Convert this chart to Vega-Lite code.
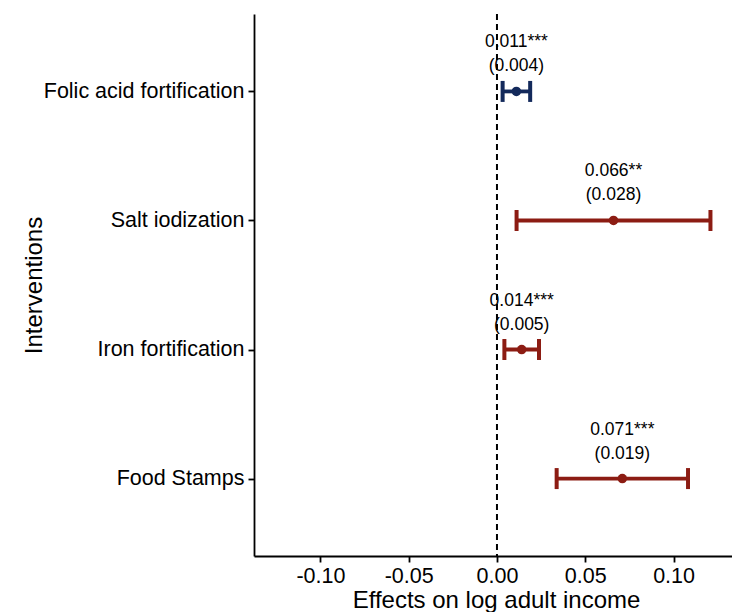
{
  "$schema": "https://vega.github.io/schema/vega-lite/v6.json",
  "width": 484,
  "height": 542,
  "autosize": "none",
  "padding": {"left": 254, "top": 14, "right": 0, "bottom": 56},
  "config": {
    "view": {"stroke": null},
    "font": "Liberation Sans",
    "axis": {
      "grid": false,
      "domainColor": "black",
      "domainWidth": 1.8,
      "tickColor": "black",
      "tickWidth": 1.8,
      "tickSize": 6,
      "labelColor": "black",
      "titleColor": "black",
      "labelFontSize": 21.5,
      "labelLimit": 400,
      "titleFontSize": 24,
      "titleFontWeight": "normal"
    }
  },
  "data": {
    "values": [
      {"intervention": "Folic acid fortification", "est": 0.011, "lo": 0.0032, "hi": 0.0188, "stars": "0.011***", "se": "(0.004)", "group": "Folic"},
      {"intervention": "Salt iodization", "est": 0.066, "lo": 0.0111, "hi": 0.1209, "stars": "0.066**", "se": "(0.028)", "group": "Other"},
      {"intervention": "Iron fortification", "est": 0.014, "lo": 0.0042, "hi": 0.0238, "stars": "0.014***", "se": "(0.005)", "group": "Other"},
      {"intervention": "Food Stamps", "est": 0.071, "lo": 0.0338, "hi": 0.1082, "stars": "0.071***", "se": "(0.019)", "group": "Other"}
    ]
  },
  "encoding": {
    "y": {
      "field": "intervention",
      "type": "nominal",
      "sort": null,
      "scale": {"type": "point", "padding": 0.6, "domain": ["Folic acid fortification", "Salt iodization", "Iron fortification", "Food Stamps"]},
      "axis": {"title": "Interventions", "labelPadding": 4, "titlePadding": 8}
    }
  },
  "layer": [
    {
      "mark": {"type": "rule", "strokeWidth": 3.8},
      "encoding": {
        "x": {
          "field": "lo",
          "type": "quantitative",
          "scale": {"domain": [-0.1376, 0.1365], "nice": false, "zero": false},
          "axis": {
            "title": "Effects on log adult income",
            "values": [-0.1, -0.05, 0, 0.05, 0.1],
            "labelExpr": "replace(format(datum.value, '.2f'), '\u2212', '-')",
            "labelPadding": 3,
            "titlePadding": 2
          }
        },
        "x2": {"field": "hi"},
        "color": {"field": "group", "type": "nominal", "scale": {"domain": ["Folic", "Other"], "range": ["#13295b", "#8c1c13"]}, "legend": null}
      }
    },
    {
      "mark": {"type": "tick", "thickness": 4, "size": 21, "opacity": 1},
      "encoding": {
        "x": {"field": "lo", "type": "quantitative"},
        "color": {"field": "group", "type": "nominal", "legend": null}
      }
    },
    {
      "mark": {"type": "tick", "thickness": 4, "size": 21, "opacity": 1},
      "encoding": {
        "x": {"field": "hi", "type": "quantitative"},
        "color": {"field": "group", "type": "nominal", "legend": null}
      }
    },
    {
      "mark": {"type": "point", "filled": true, "opacity": 1, "size": 90},
      "encoding": {
        "x": {"field": "est", "type": "quantitative"},
        "color": {"field": "group", "type": "nominal", "legend": null}
      }
    },
    {
      "mark": {"type": "text", "fontSize": 17.5, "dy": -49, "color": "black"},
      "encoding": {
        "x": {"field": "est", "type": "quantitative"},
        "text": {"field": "stars"}
      }
    },
    {
      "mark": {"type": "text", "fontSize": 17.5, "dy": -25, "color": "black"},
      "encoding": {
        "x": {"field": "est", "type": "quantitative"},
        "text": {"field": "se"}
      }
    },
    {
      "data": {"values": [{"zero": 0}]},
      "mark": {"type": "rule", "strokeDash": [6, 4], "strokeWidth": 2, "color": "black"},
      "encoding": {
        "x": {"field": "zero", "type": "quantitative"},
        "y": null
      }
    }
  ]
}
